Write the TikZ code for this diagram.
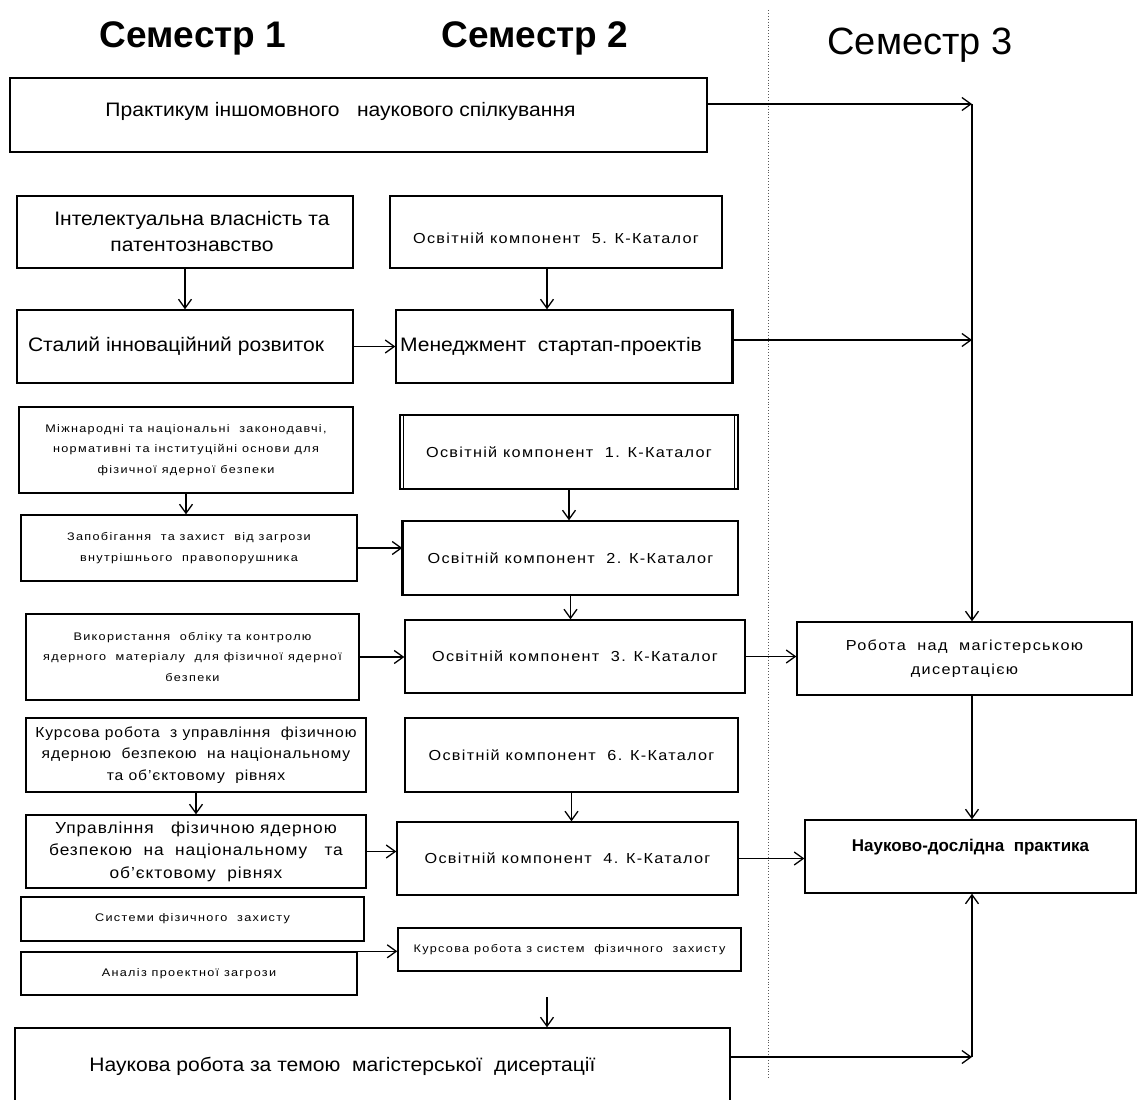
\documentclass[tikz,border=0pt]{standalone}
\usepackage{fontspec}
\setmainfont{Liberation Sans}
\newfontfamily\fA{Liberation Sans}
\newfontfamily\fB[FakeStretch=1.08]{Liberation Sans}
\newfontfamily\fS[LetterSpace=12,FakeStretch=1.15]{Liberation Sans}
\newfontfamily\fK[LetterSpace=9,FakeStretch=1.12]{Liberation Sans}
\newfontfamily\fM[LetterSpace=6,FakeStretch=1.08]{Liberation Sans}
\usetikzlibrary{arrows.meta}
\begin{document}
\begin{tikzpicture}[x=1pt,y=-1pt,
  box/.style={draw, line width=1.4pt, inner sep=0pt, align=center},
  arr/.style={line width=1.3pt, -{Straight Barb[length=9pt,width=13pt,line width=1.3pt]}},
  ttl/.style={font={\fA\bfseries\fontsize{37}{40}\selectfont}},
  tmed/.style={font={\fB\fontsize{19.5}{26}\selectfont}},
  tok/.style={font={\fK\fontsize{14.5}{24}\selectfont}},
  tmid/.style={font={\fM\fontsize{14.5}{21.5}\selectfont}},
  tsm/.style={font={\fS\fontsize{11}{20.5}\selectfont}}
]
\useasboundingbox (0,0) rectangle (1138,1100);
\fill[white] (0,0) rectangle (1138,1100);

% titles
\node[ttl] (t1) at (193,38) {Семестр 1};
\node[ttl] (t2) at (535,38) {Семестр 2};
\node[font={\fA\fontsize{38}{40}\selectfont}] (t3) at (920,45) {Семестр 3};

% dotted separator
\draw[dotted, gray!70!black, line width=0.9pt] (768,10) -- (768,1080);

% boxes
\node[box, tmed, minimum width=697pt, minimum height=74pt, text depth=12pt] (p1) at (358.5,115) {Практикум іншомовного \ \ наукового спілкування\hspace*{36pt}};
\node[box, tmed, minimum width=336pt, minimum height=72pt] (ip) at (185,232) {\hspace*{14pt}Інтелектуальна власність та\\\hspace*{14pt}патентознавство};
\node[box, tok, minimum width=332pt, minimum height=72pt, text height=24pt] (ok5) at (556,232) {Освітній компонент \ 5. К-Каталог};
\node[box, tmed, minimum width=336pt, minimum height=73pt] (sir) at (185,346.5) {Сталий інноваційний розвиток\hspace*{18pt}};
\node[box, tmed, minimum width=336pt, minimum height=73pt] (msp) at (564,346.5) {Менеджмент \ стартап-проектів\hspace*{26pt}};
\node[box, tsm, minimum width=334pt, minimum height=86pt] (mn) at (186,450) {Міжнародні та національні \ законодавчі,\\нормативні та інституційні основи для\\фізичної ядерної безпеки};
\node[box, tok, minimum width=338pt, minimum height=74pt] (ok1) at (569,452) {Освітній компонент \ 1. К-Каталог};
\node[box, tsm, minimum width=336pt, minimum height=66pt] (zap) at (189,548) {Запобігання \ та захист \ від загрози\\внутрішнього \ правопорушника};
\node[box, tok, minimum width=335pt, minimum height=74pt] (ok2) at (570.5,558) {Освітній компонент \ 2. К-Каталог};
\node[box, tsm, minimum width=333pt, minimum height=86pt] (vyk) at (192.5,657) {Використання \ обліку та контролю\\ядерного \ матеріалу \ для фізичної ядерної\\безпеки};
\node[box, tok, minimum width=340pt, minimum height=73pt] (ok3) at (575,656.5) {Освітній компонент \ 3. К-Каталог};
\node[box, tok, minimum width=335pt, minimum height=73pt] (rob) at (964.5,658.5) {Робота \ над \ магістерською\\дисертацією};
\node[box, tmid, minimum width=340pt, minimum height=74pt] (kur) at (196,755) {Курсова робота \ з управління \ фізичною\\ядерною \ безпекою \ на національному\\та об’єктовому \ рівнях};
\node[box, tok, minimum width=333pt, minimum height=74pt] (ok6) at (571.5,755) {Освітній компонент \ 6. К-Каталог};
\node[box, font={\fM\fontsize{16}{22.5}\selectfont}, minimum width=340pt, minimum height=73pt] (upr) at (196,851.5) {Управління \ \ фізичною ядерною\\безпекою \ на \ національному \ \ та\\об’єктовому \ рівнях};
\node[box, tok, minimum width=341pt, minimum height=73pt] (ok4) at (567.5,858.5) {Освітній компонент \ 4. К-Каталог};
\node[box, font={\fA\bfseries\fontsize{17}{20}\selectfont}, minimum width=331pt, minimum height=73pt, text depth=22pt] (ndp) at (970.5,856.5) {Науково-дослідна \ практика};
\node[box, tsm, minimum width=343pt, minimum height=44pt] (sfz) at (192.5,919) {Системи фізичного \ захисту};
\node[box, tsm, minimum width=336pt, minimum height=43pt] (apz) at (189,973.5) {Аналіз проектної загрози};
\node[box, tsm, minimum width=343pt, minimum height=43pt] (krs) at (569.5,949.5) {Курсова робота з систем \ фізичного \ захисту};
\node[box, tmed, minimum width=715pt, minimum height=77pt] (nr) at (372.5,1066.5) {Наукова робота за темою \ магістерської \ дисертації\hspace*{60pt}};

% extra border details
\draw[line width=3pt] (msp.north east) -- (msp.south east);
\draw[line width=1pt] ([xshift=4pt]ok1.north west) -- ([xshift=4pt]ok1.south west);
\draw[line width=1pt] ([xshift=-4pt]ok1.north east) -- ([xshift=-4pt]ok1.south east);
\draw[line width=2.8pt] (ok2.north west) -- (ok2.south west);

% junction coordinates on the right
\coordinate (j1) at (972,104);
\coordinate (j2) at (972,340);
\coordinate (j3) at (972,1057);
\coordinate (f1) at (547,997);
\coordinate (c5) at (547,268);

% connectors
\draw[arr] (p1.east |- j1) -- (j1);
\draw[arr] (j1) -- (j1 |- rob.north);
\draw[arr] (msp.east |- j2) -- (j2);
\draw[arr] (ip.south) -- (sir.north);
\draw[arr] (c5) -- (c5 |- msp.north);
\draw[arr] (sir.east) -- (sir.east -| msp.west);
\draw[arr] (mn.south) -- (mn.south |- zap.north);
\draw[arr] (zap.east) -- (zap.east -| ok2.west);
\draw[arr] (ok1.south) -- (ok1.south |- ok2.north);
\draw[arr] (ok2.south) -- (ok2.south |- ok3.north);
\draw[arr] (vyk.east) -- (vyk.east -| ok3.west);
\draw[arr] (ok3.east) -- (ok3.east -| rob.west);
\draw[arr] (j1 |- rob.south) -- (j1 |- ndp.north);
\draw[arr] (kur.south) -- (kur.south |- upr.north);
\draw[arr] (ok6.south) -- (ok6.south |- ok4.north);
\draw[arr] (upr.east) -- (upr.east -| ok4.west);
\draw[arr] (ok4.east) -- (ok4.east -| ndp.west);
\draw[arr] (apz.north east) -- (apz.north east -| krs.west);
\draw[arr] (f1) -- (f1 |- nr.north);
\draw[arr] (nr.east |- j3) -- (j3);
\draw[arr] (j3) -- (j3 |- ndp.south);
\end{tikzpicture}
\end{document}
